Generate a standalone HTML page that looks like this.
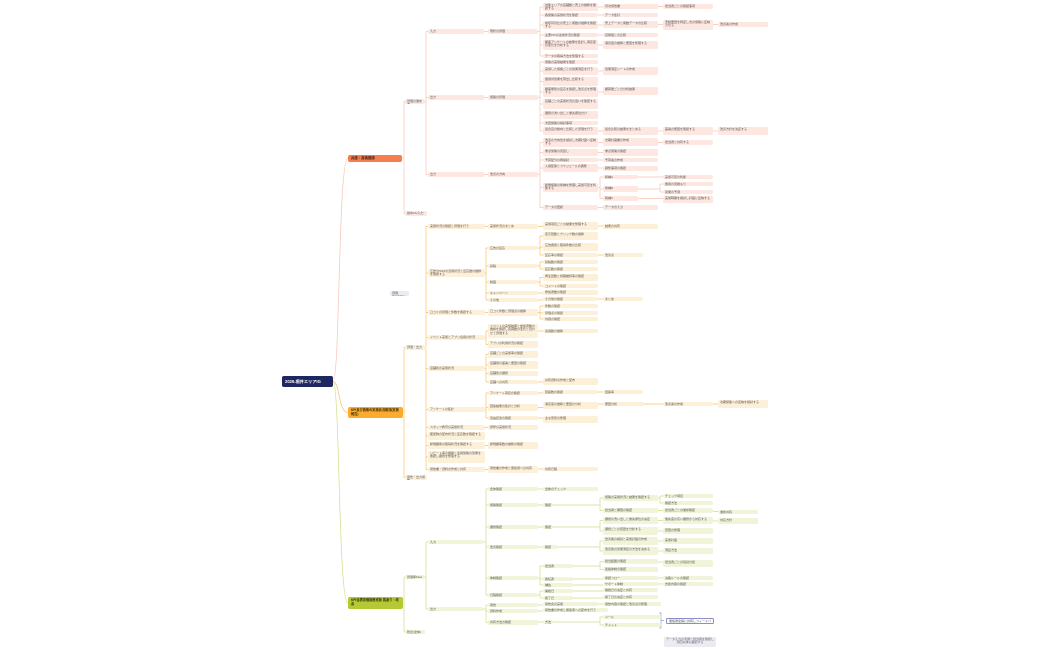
<!DOCTYPE html>
<html><head><meta charset="utf-8"><style>
html,body{margin:0;padding:0;background:#fff;}
#c{position:relative;width:1050px;height:650px;overflow:hidden;font-family:"Liberation Sans","Noto Sans CJK JP",sans-serif;}
.n{position:absolute;box-sizing:border-box;font-size:3px;line-height:3.6px;color:#555;border-radius:1.5px;padding:0.6px 2px;overflow:hidden;white-space:normal;}
.p{background:#fde7e0;}
.y{background:#fdf0d8;}
.g{background:#f1f4d9;}
.m{position:absolute;box-sizing:border-box;border-radius:2px;font-weight:bold;font-size:4px;line-height:5px;padding:1px 3px;overflow:hidden;}
svg{position:absolute;left:0;top:0;}
</style></head><body><div id="c">
<svg width="1050" height="650" fill="none" stroke-width="0.7">
<g stroke="#f7c4b3">
<path d="M333,381.5 C340,381.5 338,158 348,158"/>
<path d="M402,158 H404 M404,158 V101.5 H405 M404,158 V213.5 H405"/>
<path d="M425,101.5 H426 M426,31.5 V174.5 M426,31.5 H428 M426,97.5 H428 M426,174.5 H428"/>
<path d="M484,31.5 H488 M484,97.5 H488 M484,174.5 H488"/>
<path d="M538,31.5 H540 M540,7 V56 M540,7 H543 M540,15 H543 M540,25 H543 M540,35 H543 M540,45 H543 M540,56 H543"/>
<path d="M598,7 H603 M658,6.5 H663 M598,15 H603 M598,25 H603 M658,24.5 H663 M713,24.5 H718 M598,35 H603 M598,45 H603"/>
<path d="M538,97.5 H540 M540,62 V131 M540,62 H543 M540,71 H543 M540,81.5 H543 M540,92 H543 M540,104 H543 M540,115 H543 M540,123 H543 M540,131 H543"/>
<path d="M598,71 H603 M598,92 H603 M598,131 H603 M658,131 H663 M713,131 H718"/>
<path d="M538,174.5 H540 M540,142.5 V207.5 M540,142.5 H543 M540,152.5 H543 M540,160 H543 M540,168 H543 M540,187.5 H543 M540,207.5 H543"/>
<path d="M598,142.5 H603 M658,142.5 H663 M598,152.5 H603 M598,160 H603 M598,168 H603 M598,207.5 H603"/>
<path d="M598,187.5 H600 M600,177 V198.5 M600,177 H603 M600,189 H603 M600,198.5 H603"/>
<path d="M638,177 H663 M638,189 H660 M660,184 V192 M660,184 H663 M660,192 H663 M638,198.5 H663"/>
</g>
<g stroke="#f6c265">
<path d="M333,381.5 C340,381.5 338,412.5 348,412.5"/>
<path d="M403,412.5 H404 M404,347.5 V477.5 M404,347.5 H405 M404,477.5 H405"/>
<path d="M427,347.5 H426 M426,226.5 V469.5 M426,226.5 H428 M426,273 H428 M426,312.5 H428 M426,337.5 H428 M426,368.5 H428 M426,409.5 H428 M426,427.5 H428 M426,436 H428 M426,445.5 H428 M426,457 H428 M426,469.5 H428"/>
<path d="M485,226.5 H488 M538,226.5 H543 M598,226 H603"/>
<path d="M485,273 H486 M486,248 V300 M486,248 H488 M486,266 H488 M486,282 H488 M486,293 H488 M486,300 H488"/>
<path d="M538,248 H540 M540,236 V255 M540,236 H543 M540,247 H543 M540,255 H543 M598,255 H603"/>
<path d="M538,266 H540 M540,262 V269 M540,262 H543 M540,269 H543"/>
<path d="M538,282 H540 M540,277.5 V286 M540,277.5 H543 M540,286 H543 M538,293 H543 M538,300 H543 M598,299 H603"/>
<path d="M485,312.5 H488 M538,312.5 H540 M540,306 V319 M540,306 H543 M540,313 H543 M540,319 H543"/>
<path d="M485,337.5 H486 M486,331 V344.5 M486,331 H488 M486,344.5 H488 M538,331 H543"/>
<path d="M485,368.5 H486 M486,354.5 V382 M486,354.5 H488 M486,365 H488 M486,373.5 H488 M486,382 H488 M538,382 H543"/>
<path d="M485,409.5 H486 M486,393 V418 M486,393 H488 M486,407.5 H488 M486,418 H488"/>
<path d="M538,393 H543 M598,392 H603 M538,407.5 H543 M598,404 H603 M643,404 H663 M713,404 H718 M538,418 H543"/>
<path d="M485,427.5 H488 M485,445.5 H488 M485,469.5 H488 M538,469 H543"/>
</g>
<g stroke="#d2dd88">
<path d="M333,381.5 C340,381.5 338,603 348,603"/>
<path d="M403,603 H404 M404,577 V632 M404,577 H405 M404,632 H405"/>
<path d="M425,577 H426 M426,542 V609 M426,542 H428 M426,609 H428"/>
<path d="M483,542 H486 M486,489 V595 M486,489 H488 M486,505 H488 M486,527 H488 M486,547 H488 M486,578 H488 M486,595 H488"/>
<path d="M538,489 H543"/>
<path d="M538,505 H543 M553,505 H600 M600,498 V510.5 M600,498 H603 M600,510.5 H603 M658,498 H660 M660,496 V503 M660,496 H663 M660,503 H663 M658,510.5 H663 M713,511.5 H718"/>
<path d="M538,527 H543 M553,527 H600 M600,520.5 V531 M600,520.5 H603 M600,531 H603 M658,520.5 H663 M713,521 H718 M658,531 H663"/>
<path d="M538,547 H543 M558,547 H600 M600,541 V551 M600,541 H603 M600,551 H603 M658,541 H663 M658,551 H663"/>
<path d="M538,578 H540 M540,566 V585 M540,566 H543 M540,579 H543 M540,585 H543 M573,566 H600 M600,561.5 V569.5 M600,561.5 H603 M600,569.5 H603 M658,562 H663 M573,579 H603 M658,578 H663 M573,585 H603 M658,584 H663"/>
<path d="M538,595 H540 M540,591 V598 M540,591 H543 M540,598 H543 M573,591 H603 M573,598 H603"/>
<path d="M483,609 H486 M486,605 V622.5 M486,605 H488 M486,611 H488 M486,622.5 H488"/>
<path d="M538,605 H543 M598,604 H603 M538,611 H543 M538,622 H543 M553,622 H600 M600,617 V625 M600,617 H603 M600,625 H603"/>
</g>
<path d="M659,613 H661 V628 H659 M661,620.5 H664" stroke="#9b9fcf" stroke-width="0.7"/>
</svg>

<div class="m" style="left:282px;top:376px;width:51px;height:11px;background:#1e2760;color:#fff;font-size:4.2px;line-height:9px;">2026.堀井エリアIG</div>
<div class="m" style="left:348px;top:155px;width:54px;height:7px;background:#f57d4f;color:#3a1a10;font-size:3.4px;line-height:5px;">兵庫・高橋健康</div>
<div class="m" style="left:348px;top:407px;width:55px;height:11px;background:#fbac30;color:#3a2a08;font-size:3.2px;line-height:4px;">KPI及び施策の実施状況確認(実施報告)</div>
<div class="m" style="left:348px;top:597px;width:55px;height:12px;background:#b6c934;color:#2a300a;font-size:3.2px;line-height:4px;">KPI目標評価施策実施 振返り・改善</div>

<div class="n p" style="left:405px;top:99px;width:20px;height:5px;">評価の進め方</div>
<div class="n p" style="left:405px;top:211px;width:22px;height:5px;">熱中2A/入力</div>
<div class="n p" style="left:428px;top:29px;width:56px;height:5px;">入力</div>
<div class="n p" style="left:428px;top:95px;width:56px;height:5px;">出力</div>
<div class="n p" style="left:428px;top:172px;width:56px;height:5px;">出力</div>
<div class="n p" style="left:488px;top:29px;width:50px;height:5px;">現状の評価</div>
<div class="n p" style="left:488px;top:95px;width:50px;height:5px;">施策の評価</div>
<div class="n p" style="left:488px;top:172px;width:50px;height:5px;">改善の方向</div>

<div class="n p" style="left:543px;top:3px;width:55px;height:8px;">対象エリアの店舗数と売上の推移を確認する</div>
<div class="n p" style="left:543px;top:13px;width:55px;height:4px;">各施策の実施状況を確認</div>
<div class="n p" style="left:543px;top:21px;width:55px;height:8px;">前年同月比の売上と客数の推移を確認する</div>
<div class="n p" style="left:543px;top:33px;width:55px;height:4px;">主要KPIの達成状況の確認</div>
<div class="n p" style="left:543px;top:40px;width:55px;height:10px;">顧客アンケートの結果を集計し満足度の変化を分析する</div>
<div class="n p" style="left:543px;top:54px;width:55px;height:4px;">データの取得方法を整理する</div>
<div class="n p" style="left:603px;top:4px;width:55px;height:5px;">月次報告書</div>
<div class="n p" style="left:663px;top:4px;width:50px;height:5px;">担当者ごとの確認事項</div>
<div class="n p" style="left:603px;top:13px;width:55px;height:4px;">データ集計</div>
<div class="n p" style="left:603px;top:21px;width:55px;height:7px;">売上データと客数データの比較</div>
<div class="n p" style="left:663px;top:20px;width:50px;height:10px;">変動要因を特定し次の施策に反映させる</div>
<div class="n p" style="left:718px;top:22px;width:50px;height:5px;">改善案の作成</div>
<div class="n p" style="left:603px;top:33px;width:55px;height:4px;">目標値との比較</div>
<div class="n p" style="left:603px;top:41px;width:55px;height:8px;">満足度の推移と要因を整理する</div>

<div class="n p" style="left:543px;top:60px;width:55px;height:4px;">施策の実施結果を確認</div>
<div class="n p" style="left:543px;top:67px;width:55px;height:8px;">実施した施策ごとの効果測定を行う</div>
<div class="n p" style="left:543px;top:77px;width:55px;height:9px;">費用対効果を算出し比較する</div>
<div class="n p" style="left:543px;top:87px;width:55px;height:10px;">顧客層別の反応を確認し改善点を整理する</div>
<div class="n p" style="left:543px;top:99px;width:55px;height:10px;">店舗ごとの実施状況の違いを確認する</div>
<div class="n p" style="left:543px;top:111px;width:55px;height:8px;">課題の洗い出しと優先順位付け</div>
<div class="n p" style="left:543px;top:121px;width:55px;height:4px;">次回施策の検討事項</div>
<div class="n p" style="left:543px;top:127px;width:55px;height:8px;">競合店の動向と比較した評価を行う</div>
<div class="n p" style="left:603px;top:67px;width:55px;height:8px;">効果測定シートの作成</div>
<div class="n p" style="left:603px;top:87px;width:55px;height:8px;">顧客層ごとの分析結果</div>
<div class="n p" style="left:603px;top:127px;width:55px;height:8px;">競合比較の結果をまとめる</div>
<div class="n p" style="left:663px;top:127px;width:50px;height:8px;">差異の要因を確認する</div>
<div class="n p" style="left:718px;top:127px;width:50px;height:8px;">改善方針を決定する</div>

<div class="n p" style="left:543px;top:138px;width:55px;height:9px;">改善の方向性を検討し次期計画へ反映する</div>
<div class="n p" style="left:543px;top:149px;width:55px;height:7px;">重点施策の見直し</div>
<div class="n p" style="left:543px;top:158px;width:55px;height:4px;">予算配分の再検討</div>
<div class="n p" style="left:543px;top:164px;width:55px;height:8px;">人員配置とスケジュールの調整</div>
<div class="n p" style="left:543px;top:183px;width:55px;height:9px;">新規施策の候補を整理し実施可否を判断する</div>
<div class="n p" style="left:543px;top:205px;width:55px;height:5px;">データの更新</div>
<div class="n p" style="left:603px;top:138px;width:55px;height:8px;">次期計画書の作成</div>
<div class="n p" style="left:663px;top:140px;width:50px;height:5px;">担当者と共有する</div>
<div class="n p" style="left:603px;top:149px;width:55px;height:7px;">重点施策の確認</div>
<div class="n p" style="left:603px;top:158px;width:55px;height:4px;">予算案の作成</div>
<div class="n p" style="left:603px;top:166px;width:55px;height:5px;">調整事項の確認</div>
<div class="n p" style="left:603px;top:175px;width:35px;height:4px;">候補A</div>
<div class="n p" style="left:603px;top:186px;width:35px;height:6px;">候補B</div>
<div class="n p" style="left:603px;top:196px;width:35px;height:5px;">候補C</div>
<div class="n p" style="left:663px;top:175px;width:50px;height:4px;">実施可否の判断</div>
<div class="n p" style="left:663px;top:182px;width:50px;height:4px;">費用の見積もり</div>
<div class="n p" style="left:663px;top:190px;width:50px;height:4px;">効果の予測</div>
<div class="n p" style="left:663px;top:196px;width:50px;height:7px;">実施時期を検討し計画に反映する</div>
<div class="n p" style="left:603px;top:205px;width:55px;height:5px;">データの入力</div>

<div class="n" style="left:390px;top:291px;width:19px;height:5px;background:#ebebf3;color:#556;">評価Word/Ocr</div>
<div class="n y" style="left:405px;top:345px;width:22px;height:5px;">評価・出力</div>
<div class="n y" style="left:405px;top:475px;width:22px;height:5px;">報告・出力報告</div>
<div class="n y" style="left:428px;top:224px;width:57px;height:5px;">実施状況の確認と評価を行う</div>
<div class="n y" style="left:428px;top:269px;width:57px;height:8px;">広告やSNSの活用状況と反応数の推移を確認する</div>
<div class="n y" style="left:428px;top:310px;width:57px;height:5px;">口コミの評価と件数を確認する</div>
<div class="n y" style="left:428px;top:335px;width:57px;height:5px;">イベント実施とアプリ会員の状況</div>
<div class="n y" style="left:428px;top:366px;width:57px;height:5px;">店舗別の実施状況</div>
<div class="n y" style="left:428px;top:407px;width:57px;height:5px;">アンケートの集計</div>
<div class="n y" style="left:428px;top:425px;width:57px;height:5px;">スタッフ教育の実施状況</div>
<div class="n y" style="left:428px;top:432px;width:57px;height:8px;">販促物の配布状況と反応数を確認する</div>
<div class="n y" style="left:428px;top:442px;width:57px;height:7px;">新規顧客の獲得状況を確認する</div>
<div class="n y" style="left:428px;top:451px;width:57px;height:12px;">リピート率の推移と会員施策の効果を確認し課題を整理する</div>
<div class="n y" style="left:428px;top:467px;width:57px;height:5px;">報告書・資料の作成と共有</div>

<div class="n y" style="left:488px;top:224px;width:50px;height:5px;">実施状況のまとめ</div>
<div class="n y" style="left:543px;top:222px;width:55px;height:8px;">実施項目ごとの結果を整理する</div>
<div class="n y" style="left:603px;top:224px;width:55px;height:5px;">結果の共有</div>
<div class="n y" style="left:488px;top:246px;width:50px;height:4px;">広告の反応</div>
<div class="n y" style="left:488px;top:264px;width:50px;height:4px;">投稿</div>
<div class="n y" style="left:488px;top:280px;width:50px;height:4px;">動画</div>
<div class="n y" style="left:488px;top:291px;width:50px;height:4px;">キャンペーン</div>
<div class="n y" style="left:488px;top:298px;width:50px;height:4px;">その他</div>
<div class="n y" style="left:543px;top:232px;width:55px;height:8px;">表示回数とクリック数の推移</div>
<div class="n y" style="left:543px;top:243px;width:55px;height:8px;">広告費用と獲得件数の比較</div>
<div class="n y" style="left:543px;top:253px;width:55px;height:4px;">反応率の確認</div>
<div class="n y" style="left:603px;top:253px;width:40px;height:4px;">改善点</div>
<div class="n y" style="left:543px;top:260px;width:55px;height:4px;">投稿数の確認</div>
<div class="n y" style="left:543px;top:267px;width:55px;height:4px;">反応数の確認</div>
<div class="n y" style="left:543px;top:274px;width:55px;height:7px;">再生回数と視聴維持率の確認</div>
<div class="n y" style="left:543px;top:284px;width:55px;height:4px;">コメントの確認</div>
<div class="n y" style="left:543px;top:290px;width:55px;height:5px;">参加者数の確認</div>
<div class="n y" style="left:543px;top:297px;width:55px;height:4px;">その他の確認</div>
<div class="n y" style="left:603px;top:297px;width:40px;height:4px;">まとめ</div>
<div class="n y" style="left:488px;top:309px;width:50px;height:7px;">口コミ件数と評価点の推移</div>
<div class="n y" style="left:543px;top:304px;width:55px;height:4px;">件数の確認</div>
<div class="n y" style="left:543px;top:311px;width:55px;height:4px;">評価点の確認</div>
<div class="n y" style="left:543px;top:317px;width:55px;height:4px;">内容の確認</div>
<div class="n y" style="left:488px;top:324px;width:50px;height:14px;">イベントの実施結果と参加者数の推移を確認し会員数の変化と合わせて評価する</div>
<div class="n y" style="left:543px;top:329px;width:55px;height:4px;">会員数の推移</div>
<div class="n y" style="left:488px;top:341px;width:50px;height:7px;">アプリの利用状況の確認</div>
<div class="n y" style="left:488px;top:351px;width:50px;height:7px;">店舗ごとの実施率の確認</div>
<div class="n y" style="left:488px;top:361px;width:50px;height:8px;">店舗間の差異と要因の確認</div>
<div class="n y" style="left:488px;top:371px;width:50px;height:5px;">店舗別の課題</div>
<div class="n y" style="left:488px;top:380px;width:50px;height:4px;">店舗への共有</div>
<div class="n y" style="left:543px;top:378px;width:55px;height:7px;">共有資料の作成と配布</div>
<div class="n y" style="left:488px;top:391px;width:50px;height:4px;">アンケート項目の確認</div>
<div class="n y" style="left:543px;top:390px;width:55px;height:4px;">回答数の確認</div>
<div class="n y" style="left:603px;top:390px;width:40px;height:4px;">回答率</div>
<div class="n y" style="left:488px;top:404px;width:50px;height:7px;">回答結果の集計と分析</div>
<div class="n y" style="left:543px;top:402px;width:55px;height:7px;">満足度の推移と要因の分析</div>
<div class="n y" style="left:603px;top:402px;width:40px;height:4px;">要因分析</div>
<div class="n y" style="left:663px;top:402px;width:50px;height:4px;">改善案の作成</div>
<div class="n y" style="left:718px;top:400px;width:50px;height:8px;">次期施策への反映を検討する</div>
<div class="n y" style="left:488px;top:416px;width:50px;height:4px;">自由記述の確認</div>
<div class="n y" style="left:543px;top:416px;width:55px;height:7px;">主な意見の整理</div>
<div class="n y" style="left:488px;top:425px;width:50px;height:5px;">研修の実施状況</div>
<div class="n y" style="left:488px;top:442px;width:50px;height:7px;">新規顧客数の推移の確認</div>
<div class="n y" style="left:488px;top:466px;width:50px;height:7px;">報告書の作成と関係者への共有</div>
<div class="n y" style="left:543px;top:467px;width:55px;height:4px;">共有日程</div>

<div class="n g" style="left:405px;top:575px;width:20px;height:4px;">評価準Flow</div>
<div class="n g" style="left:405px;top:630px;width:20px;height:4px;">附近(全体)</div>
<div class="n g" style="left:428px;top:540px;width:55px;height:4px;">入力</div>
<div class="n g" style="left:428px;top:607px;width:55px;height:4px;">出力</div>
<div class="n g" style="left:488px;top:487px;width:50px;height:4px;">全体確認</div>
<div class="n g" style="left:488px;top:503px;width:50px;height:4px;">施策確認</div>
<div class="n g" style="left:488px;top:525px;width:50px;height:4px;">課題確認</div>
<div class="n g" style="left:488px;top:545px;width:50px;height:4px;">改善確認</div>
<div class="n g" style="left:488px;top:576px;width:50px;height:4px;">体制確認</div>
<div class="n g" style="left:488px;top:593px;width:50px;height:4px;">日程確認</div>
<div class="n g" style="left:543px;top:487px;width:55px;height:4px;">全体のチェック</div>
<div class="n g" style="left:543px;top:503px;width:10px;height:4px;">確認</div>
<div class="n g" style="left:543px;top:525px;width:10px;height:4px;">確認</div>
<div class="n g" style="left:543px;top:545px;width:15px;height:4px;">確認</div>
<div class="n g" style="left:603px;top:495px;width:55px;height:6px;">施策の実施状況と結果を確認する</div>
<div class="n g" style="left:663px;top:494px;width:50px;height:4px;">チェック項目</div>
<div class="n g" style="left:663px;top:501px;width:50px;height:4px;">確認方法</div>
<div class="n g" style="left:603px;top:508px;width:55px;height:5px;">担当者と期限の確認</div>
<div class="n g" style="left:663px;top:508px;width:50px;height:5px;">担当者ごとの進捗確認</div>
<div class="n g" style="left:718px;top:510px;width:40px;height:4px;">進捗共有</div>
<div class="n g" style="left:603px;top:517px;width:55px;height:7px;">課題の洗い出しと優先順位の決定</div>
<div class="n g" style="left:663px;top:517px;width:50px;height:7px;">優先度の高い課題から対応する</div>
<div class="n g" style="left:718px;top:518px;width:40px;height:6px;">対応方針</div>
<div class="n g" style="left:603px;top:527px;width:55px;height:8px;">課題ごとの原因を分析する</div>
<div class="n g" style="left:663px;top:528px;width:50px;height:6px;">原因の整理</div>
<div class="n g" style="left:603px;top:537px;width:55px;height:8px;">改善策の検討と実施計画の作成</div>
<div class="n g" style="left:663px;top:538px;width:50px;height:6px;">実施計画</div>
<div class="n g" style="left:603px;top:547px;width:55px;height:8px;">改善後の効果測定の方法を決める</div>
<div class="n g" style="left:663px;top:548px;width:50px;height:6px;">測定方法</div>
<div class="n g" style="left:543px;top:564px;width:30px;height:4px;">担当者</div>
<div class="n g" style="left:543px;top:577px;width:30px;height:4px;">責任者</div>
<div class="n g" style="left:543px;top:583px;width:30px;height:4px;">補佐</div>
<div class="n g" style="left:603px;top:559px;width:55px;height:5px;">担当範囲の確認</div>
<div class="n g" style="left:663px;top:560px;width:50px;height:7px;">担当者ごとの役割分担</div>
<div class="n g" style="left:603px;top:567px;width:55px;height:5px;">連絡体制の確認</div>
<div class="n g" style="left:603px;top:576px;width:55px;height:4px;">承認フロー</div>
<div class="n g" style="left:663px;top:576px;width:50px;height:4px;">決裁ルールの確認</div>
<div class="n g" style="left:603px;top:582px;width:55px;height:4px;">サポート体制</div>
<div class="n g" style="left:663px;top:582px;width:50px;height:4px;">支援内容の確認</div>
<div class="n g" style="left:543px;top:589px;width:30px;height:4px;">開始日</div>
<div class="n g" style="left:543px;top:596px;width:30px;height:4px;">終了日</div>
<div class="n g" style="left:603px;top:588px;width:55px;height:4px;">開始日の決定と共有</div>
<div class="n g" style="left:603px;top:595px;width:55px;height:4px;">終了日の決定と共有</div>
<div class="n g" style="left:488px;top:603px;width:50px;height:4px;">報告</div>
<div class="n g" style="left:488px;top:609px;width:50px;height:4px;">資料作成</div>
<div class="n g" style="left:488px;top:620px;width:50px;height:5px;">共有方法の確認</div>
<div class="n g" style="left:543px;top:602px;width:55px;height:4px;">報告会の実施</div>
<div class="n g" style="left:603px;top:602px;width:58px;height:4px;">報告内容の確認と改善点の整理</div>
<div class="n g" style="left:543px;top:608px;width:65px;height:4px;">報告書の作成と関係者への配布を行う</div>
<div class="n g" style="left:543px;top:620px;width:10px;height:4px;">方法</div>
<div class="n g" style="left:603px;top:615px;width:58px;height:4px;">メール</div>
<div class="n g" style="left:603px;top:623px;width:58px;height:4px;">チャット</div>
<div class="n" style="left:666px;top:618px;width:48px;height:6px;background:#fff;border:0.7px solid #8b8fc3;color:#445;line-height:4px;padding:0.3px 2px;">関係者全員に共有しフィードバックを受ける</div>
<div class="n" style="left:664px;top:637px;width:52px;height:10px;background:#ebebf1;color:#667;text-align:center;">データ入力の手順と担当者を確認し次回以降も継続する</div>
</div></body></html>
